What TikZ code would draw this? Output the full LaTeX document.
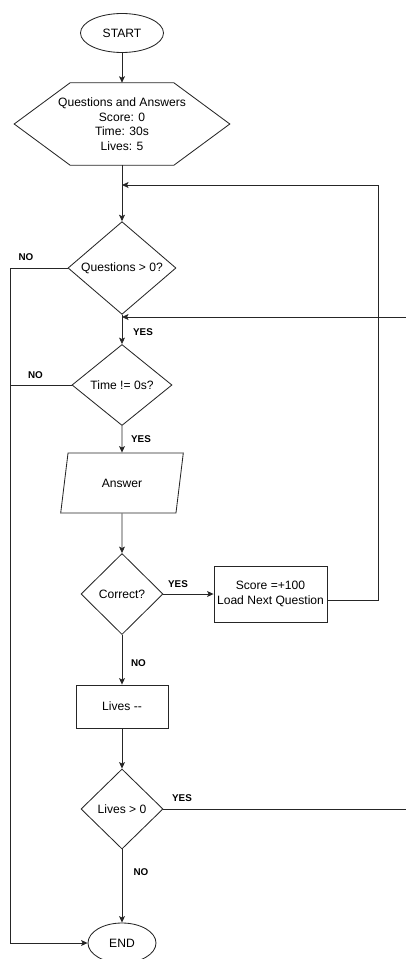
\documentclass[tikz,border=0pt]{standalone}
\usepackage{fontspec}
\setmainfont{Liberation Sans}
\usetikzlibrary{shapes.geometric, arrows.meta}

\begin{document}
\begin{tikzpicture}[
    x=0.025cm,
    y=-0.025cm,
    every node/.style={font=\fontsize{8.6}{10.3}\selectfont},
    terminal/.style={ellipse, draw=black!85, line width=0.6pt, inner sep=0pt},
    prep/.style={minimum width=5.375cm, minimum height=2.05cm, inner sep=0pt, align=center},
    decision/.style={diamond, draw=black!85, line width=0.6pt, inner sep=0pt},
    io/.style={trapezium, trapezium left angle=72, trapezium right angle=108,
        trapezium stretches=true, draw=black!85, line width=0.6pt,
        minimum width=3.075cm, minimum height=1.5cm, inner sep=0pt},
    process/.style={rectangle, draw=black!85, line width=0.6pt, inner sep=0pt, align=center},
    branch/.style={font=\fontsize{7}{8}\selectfont\bfseries, inner sep=0pt},
    wire/.style={line width=0.6pt, draw=black!85},
    seta/.style={wire, ->, >={Stealth[length=4.6pt, width=4.2pt, inset=1pt]}}
]
\useasboundingbox (0,0) rectangle (406,959);

% Start and initial values:
% ellipse at the top, hexagon below it, both on the central axis.
\node[terminal, minimum width=2.075cm, minimum height=0.975cm] (start) at (122,33) {START};
\node[prep] (init) at (122,124)
    {Questions and Answers\\Score: 0\\Time: 30s\\Lives: 5};
\draw[wire] (init.west) -- ([xshift=1.4cm]init.north west) -- ([xshift=-1.4cm]init.north east)
    -- (init.east) -- ([xshift=-1.4cm]init.south east) -- ([xshift=1.4cm]init.south west) -- cycle;

% Checks and input:
% one column of decisions, the answer and the lives counter.
\node[decision, minimum width=2.7cm, minimum height=1.925cm] (questions) at (122,268) {Questions > 0?};
\node[decision, minimum width=2.5cm, minimum height=2.025cm] (time) at (122,385) {Time != 0s?};
\node[io] (answer) at (122,483) {Answer};
\node[decision, minimum width=2.05cm, minimum height=2.025cm] (correct) at (122,594) {Correct?};
\node[process, minimum width=2.825cm, minimum height=1.4cm] (score) at (270.5,594)
    {Score =+100\\Load Next Question};
\node[process, minimum width=2.3cm, minimum height=1.075cm] (lives) at (122,706.5) {Lives {-}{-}};
\node[decision, minimum width=2.05cm, minimum height=2cm] (alive) at (122,809) {Lives > 0};
\node[terminal, minimum width=1.7cm, minimum height=1cm] (finish) at (122,943) {END};

% Helper points:
% joins on the axis, the right loop column and the left exit column.
\coordinate (joinA) at (122,185);
\coordinate (loopA) at (378,185);
\coordinate (joinB) at (122,317);
\coordinate (loopB) at (412,317);
\coordinate (exit) at (10,0);

% Main column of arrows.
\draw[seta] (start) -- (init);
\draw[seta] (init) -- (questions);
\draw[seta] (questions) -- (time);
\draw[seta] (time) -- (answer);
\draw[seta] (answer) -- (correct);
\draw[seta] (correct) -- (score);
\draw[seta] (correct) -- (lives);
\draw[seta] (lives) -- (alive);
\draw[seta] (alive) -- (finish);

% Loops back up on the right.
\draw[seta] ([yshift=-0.15cm]score.east) -| (loopA) -- (joinA);
\draw[seta] (alive.east) -| (loopB) -- (joinB);

% Exits on the left, down to END.
\draw[seta] (questions.west) -- (questions.west -| exit) |- (finish.west);
\draw[wire] (time.west) -- (time.west -| exit);

% Branch labels.
\node[branch] (noQ) at (26,257) {NO};
\node[branch] (yesQ) at (143,332) {YES};
\node[branch] (noT) at (35.5,375) {NO};
\node[branch] (yesT) at (141,439) {YES};
\node[branch] (yesC) at (178,584) {YES};
\node[branch] (noC) at (138.5,663) {NO};
\node[branch] (yesL) at (182,798) {YES};
\node[branch] (noL) at (141,872) {NO};

\end{tikzpicture}
\end{document}
